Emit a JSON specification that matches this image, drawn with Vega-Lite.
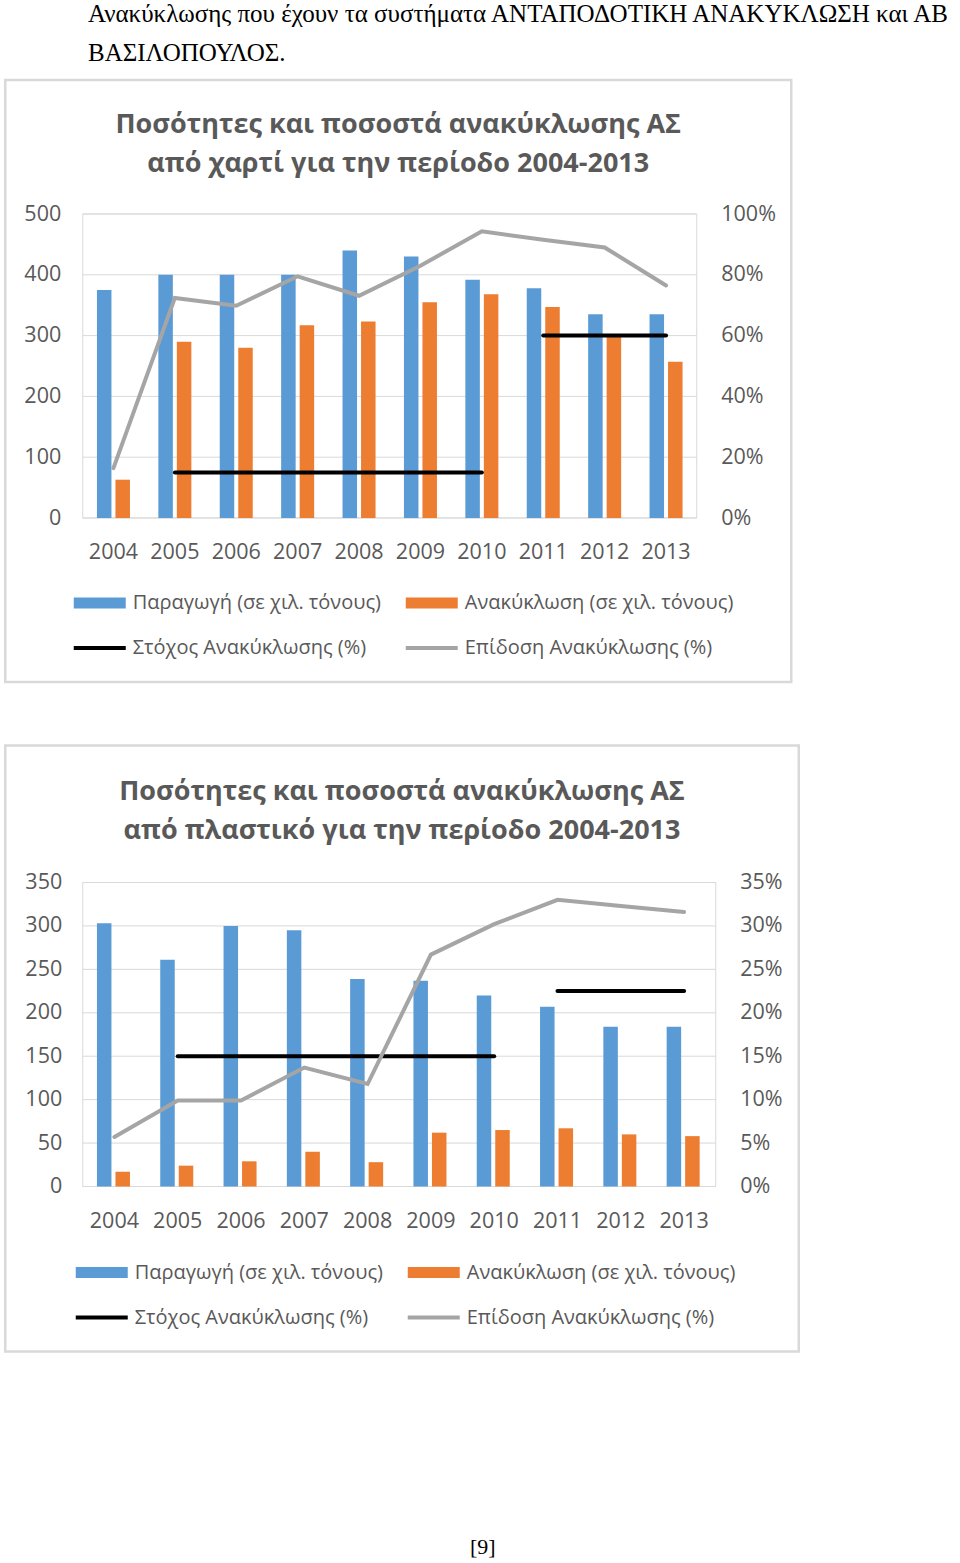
{
  "$schema": "https://vega.github.io/schema/vega-lite/v6.json",
  "background": "white",
  "padding": {"left": 3.25, "top": 2, "right": 0, "bottom": 0},
  "title": {
    "text": ["Ανακύκλωσης που έχουν τα συστήματα ΑΝΤΑΠΟΔΟΤΙΚΗ ΑΝΑΚΥΚΛΩΣΗ και ΑΒ", "ΒΑΣΙΛΟΠΟΥΛΟΣ."],
    "anchor": "start", "frame": "bounds", "font": "Liberation Serif", "fontSize": 25, "fontWeight": "normal",
    "color": "#000000", "lineHeight": 39, "dx": 84, "offset": 12.5
  },
  "spacing": 59.5,
  "resolve": {"scale": {"color": "independent"}, "legend": {"color": "independent"}},
  "datasets": {
    "bars1": [
      {"year": "2004", "series": "Παραγωγή (σε χιλ. τόνους)", "value": 375},
      {"year": "2005", "series": "Παραγωγή (σε χιλ. τόνους)", "value": 400},
      {"year": "2006", "series": "Παραγωγή (σε χιλ. τόνους)", "value": 400},
      {"year": "2007", "series": "Παραγωγή (σε χιλ. τόνους)", "value": 400},
      {"year": "2008", "series": "Παραγωγή (σε χιλ. τόνους)", "value": 440},
      {"year": "2009", "series": "Παραγωγή (σε χιλ. τόνους)", "value": 430},
      {"year": "2010", "series": "Παραγωγή (σε χιλ. τόνους)", "value": 392},
      {"year": "2011", "series": "Παραγωγή (σε χιλ. τόνους)", "value": 378},
      {"year": "2012", "series": "Παραγωγή (σε χιλ. τόνους)", "value": 335},
      {"year": "2013", "series": "Παραγωγή (σε χιλ. τόνους)", "value": 335},
      {"year": "2004", "series": "Ανακύκλωση (σε χιλ. τόνους)", "value": 63},
      {"year": "2005", "series": "Ανακύκλωση (σε χιλ. τόνους)", "value": 290},
      {"year": "2006", "series": "Ανακύκλωση (σε χιλ. τόνους)", "value": 280},
      {"year": "2007", "series": "Ανακύκλωση (σε χιλ. τόνους)", "value": 317},
      {"year": "2008", "series": "Ανακύκλωση (σε χιλ. τόνους)", "value": 323},
      {"year": "2009", "series": "Ανακύκλωση (σε χιλ. τόνους)", "value": 355},
      {"year": "2010", "series": "Ανακύκλωση (σε χιλ. τόνους)", "value": 368},
      {"year": "2011", "series": "Ανακύκλωση (σε χιλ. τόνους)", "value": 347},
      {"year": "2012", "series": "Ανακύκλωση (σε χιλ. τόνους)", "value": 299},
      {"year": "2013", "series": "Ανακύκλωση (σε χιλ. τόνους)", "value": 257}
    ],
    "lines1": [
      {"year": "2005", "series": "Στόχος Ανακύκλωσης (%)", "seg": "a", "pct": 0.15},
      {"year": "2006", "series": "Στόχος Ανακύκλωσης (%)", "seg": "a", "pct": 0.15},
      {"year": "2007", "series": "Στόχος Ανακύκλωσης (%)", "seg": "a", "pct": 0.15},
      {"year": "2008", "series": "Στόχος Ανακύκλωσης (%)", "seg": "a", "pct": 0.15},
      {"year": "2009", "series": "Στόχος Ανακύκλωσης (%)", "seg": "a", "pct": 0.15},
      {"year": "2010", "series": "Στόχος Ανακύκλωσης (%)", "seg": "a", "pct": 0.15},
      {"year": "2011", "series": "Στόχος Ανακύκλωσης (%)", "seg": "b", "pct": 0.6},
      {"year": "2012", "series": "Στόχος Ανακύκλωσης (%)", "seg": "b", "pct": 0.6},
      {"year": "2013", "series": "Στόχος Ανακύκλωσης (%)", "seg": "b", "pct": 0.6},
      {"year": "2004", "series": "Επίδοση Ανακύκλωσης (%)", "seg": "e", "pct": 0.164},
      {"year": "2005", "series": "Επίδοση Ανακύκλωσης (%)", "seg": "e", "pct": 0.724},
      {"year": "2006", "series": "Επίδοση Ανακύκλωσης (%)", "seg": "e", "pct": 0.698},
      {"year": "2007", "series": "Επίδοση Ανακύκλωσης (%)", "seg": "e", "pct": 0.795},
      {"year": "2008", "series": "Επίδοση Ανακύκλωσης (%)", "seg": "e", "pct": 0.731},
      {"year": "2009", "series": "Επίδοση Ανακύκλωσης (%)", "seg": "e", "pct": 0.83},
      {"year": "2010", "series": "Επίδοση Ανακύκλωσης (%)", "seg": "e", "pct": 0.943},
      {"year": "2011", "series": "Επίδοση Ανακύκλωσης (%)", "seg": "e", "pct": 0.915},
      {"year": "2012", "series": "Επίδοση Ανακύκλωσης (%)", "seg": "e", "pct": 0.89},
      {"year": "2013", "series": "Επίδοση Ανακύκλωσης (%)", "seg": "e", "pct": 0.765}
    ],
    "grid1": [{"v": 0}, {"v": 100}, {"v": 200}, {"v": 300}, {"v": 400}, {"v": 500}],
    "bars2": [
      {"year": "2004", "series": "Παραγωγή (σε χιλ. τόνους)", "value": 303},
      {"year": "2005", "series": "Παραγωγή (σε χιλ. τόνους)", "value": 261},
      {"year": "2006", "series": "Παραγωγή (σε χιλ. τόνους)", "value": 300},
      {"year": "2007", "series": "Παραγωγή (σε χιλ. τόνους)", "value": 295},
      {"year": "2008", "series": "Παραγωγή (σε χιλ. τόνους)", "value": 239},
      {"year": "2009", "series": "Παραγωγή (σε χιλ. τόνους)", "value": 237},
      {"year": "2010", "series": "Παραγωγή (σε χιλ. τόνους)", "value": 220},
      {"year": "2011", "series": "Παραγωγή (σε χιλ. τόνους)", "value": 207},
      {"year": "2012", "series": "Παραγωγή (σε χιλ. τόνους)", "value": 184},
      {"year": "2013", "series": "Παραγωγή (σε χιλ. τόνους)", "value": 184},
      {"year": "2004", "series": "Ανακύκλωση (σε χιλ. τόνους)", "value": 17},
      {"year": "2005", "series": "Ανακύκλωση (σε χιλ. τόνους)", "value": 24},
      {"year": "2006", "series": "Ανακύκλωση (σε χιλ. τόνους)", "value": 29},
      {"year": "2007", "series": "Ανακύκλωση (σε χιλ. τόνους)", "value": 40},
      {"year": "2008", "series": "Ανακύκλωση (σε χιλ. τόνους)", "value": 28},
      {"year": "2009", "series": "Ανακύκλωση (σε χιλ. τόνους)", "value": 62},
      {"year": "2010", "series": "Ανακύκλωση (σε χιλ. τόνους)", "value": 65},
      {"year": "2011", "series": "Ανακύκλωση (σε χιλ. τόνους)", "value": 67},
      {"year": "2012", "series": "Ανακύκλωση (σε χιλ. τόνους)", "value": 60},
      {"year": "2013", "series": "Ανακύκλωση (σε χιλ. τόνους)", "value": 58}
    ],
    "lines2": [
      {"year": "2005", "series": "Στόχος Ανακύκλωσης (%)", "seg": "a", "pct": 0.15},
      {"year": "2006", "series": "Στόχος Ανακύκλωσης (%)", "seg": "a", "pct": 0.15},
      {"year": "2007", "series": "Στόχος Ανακύκλωσης (%)", "seg": "a", "pct": 0.15},
      {"year": "2008", "series": "Στόχος Ανακύκλωσης (%)", "seg": "a", "pct": 0.15},
      {"year": "2009", "series": "Στόχος Ανακύκλωσης (%)", "seg": "a", "pct": 0.15},
      {"year": "2010", "series": "Στόχος Ανακύκλωσης (%)", "seg": "a", "pct": 0.15},
      {"year": "2011", "series": "Στόχος Ανακύκλωσης (%)", "seg": "b", "pct": 0.225},
      {"year": "2012", "series": "Στόχος Ανακύκλωσης (%)", "seg": "b", "pct": 0.225},
      {"year": "2013", "series": "Στόχος Ανακύκλωσης (%)", "seg": "b", "pct": 0.225},
      {"year": "2004", "series": "Επίδοση Ανακύκλωσης (%)", "seg": "e", "pct": 0.057},
      {"year": "2005", "series": "Επίδοση Ανακύκλωσης (%)", "seg": "e", "pct": 0.099},
      {"year": "2006", "series": "Επίδοση Ανακύκλωσης (%)", "seg": "e", "pct": 0.099},
      {"year": "2007", "series": "Επίδοση Ανακύκλωσης (%)", "seg": "e", "pct": 0.137},
      {"year": "2008", "series": "Επίδοση Ανακύκλωσης (%)", "seg": "e", "pct": 0.118},
      {"year": "2009", "series": "Επίδοση Ανακύκλωσης (%)", "seg": "e", "pct": 0.267},
      {"year": "2010", "series": "Επίδοση Ανακύκλωσης (%)", "seg": "e", "pct": 0.302},
      {"year": "2011", "series": "Επίδοση Ανακύκλωσης (%)", "seg": "e", "pct": 0.33},
      {"year": "2012", "series": "Επίδοση Ανακύκλωσης (%)", "seg": "e", "pct": 0.323},
      {"year": "2013", "series": "Επίδοση Ανακύκλωσης (%)", "seg": "e", "pct": 0.316}
    ],
    "grid2": [{"v": 0}, {"v": 50}, {"v": 100}, {"v": 150}, {"v": 200}, {"v": 250}, {"v": 300}, {"v": 350}]
  },
  "vconcat": [
    {
      "width": 786, "height": 602,
      "view": {"stroke": "#D9D9D9", "strokeWidth": 2.5},
      "title": {"text": ["Ποσότητες και ποσοστά ανακύκλωσης ΑΣ", "από χαρτί για την περίοδο  2004-2013"],
        "font": "Open Sans", "fontSize": 27, "fontWeight": "bold", "color": "#595959", "lineHeight": 39,
        "anchor": "middle", "frame": "group", "offset": -98},
      "resolve": {"scale": {"y": "independent"}, "axis": {"y": "independent"}},
      "layer": [
        {
          "layer": [
            {
              "data": {"name": "grid1"},
              "mark": {"type": "rule", "color": "#D9D9D9", "strokeWidth": 1},
              "encoding": {
                "x": {"datum": "2004", "type": "nominal", "bandPosition": 0,
                  "scale": {"domain": ["2004","2005","2006","2007","2008","2009","2010","2011","2012","2013"], "range": [77.5, 691.5], "paddingInner": 0, "paddingOuter": 0},
                  "axis": {"title": null, "orient": "bottom", "offset": -164, "labelPadding": 23.7, "labelAngle": 0, "domain": false, "ticks": false, "grid": false}},
                "x2": {"datum": "2013", "bandPosition": 1},
                "y": {"field": "v", "type": "quantitative",
                  "scale": {"domain": [0, 500], "range": [438, 134], "nice": false, "zero": false},
                  "axis": {"title": null, "orient": "left", "values": [0, 100, 200, 300, 400, 500], "offset": -55.5, "labelPadding": 0, "domain": false, "ticks": false, "grid": false}}
              }
            },
            {
              "data": {"name": "grid1"},
              "mark": {"type": "rect", "fill": null, "stroke": "#D9D9D9", "strokeWidth": 1},
              "encoding": {
                "x": {"datum": "2004", "type": "nominal", "bandPosition": 0,
                  "axis": {"title": null, "orient": "bottom", "offset": -164, "labelPadding": 23.7, "labelAngle": 0, "domain": false, "ticks": false, "grid": false}},
                "x2": {"datum": "2013", "bandPosition": 1},
                "y": {"aggregate": "min", "field": "v", "type": "quantitative",
                  "axis": {"title": null, "orient": "left", "values": [0, 100, 200, 300, 400, 500], "offset": -55.5, "labelPadding": 0, "domain": false, "ticks": false, "grid": false}},
                "y2": {"aggregate": "max", "field": "v"}
              }
            },
            {
              "data": {"name": "bars1"},
              "mark": {"type": "bar"},
              "encoding": {
                "x": {"field": "year", "type": "nominal",
                  "axis": {"title": null, "orient": "bottom", "offset": -164, "labelPadding": 23.7, "labelAngle": 0, "domain": false, "ticks": false, "grid": false}},
                "xOffset": {"field": "series", "type": "nominal",
                  "scale": {"domain": ["Παραγωγή (σε χιλ. τόνους)", "Ανακύκλωση (σε χιλ. τόνους)"], "paddingInner": 0.216, "paddingOuter": 0.767}},
                "y": {"field": "value", "type": "quantitative",
                  "axis": {"title": null, "orient": "left", "values": [0, 100, 200, 300, 400, 500], "offset": -55.5, "labelPadding": 0, "domain": false, "ticks": false, "grid": false}},
                "color": {"field": "series", "type": "nominal",
                  "scale": {"domain": ["Παραγωγή (σε χιλ. τόνους)", "Ανακύκλωση (σε χιλ. τόνους)", "Στόχος Ανακύκλωσης (%)", "Επίδοση Ανακύκλωσης (%)"], "range": ["#5B9BD5", "#ED7D31", "#000000", "#A5A5A5"]},
                  "legend": {"title": null, "orient": "none", "legendX": 68.5, "legendY": 497, "direction": "horizontal", "columns": 2,
                    "symbolSize": 2704, "labelFontSize": 20, "labelOffset": 7, "columnPadding": 24, "rowPadding": 9, "padding": 0,
                    "encode": {"symbols": {"update": {
                      "shape": {"signal": "indexof(datum.value, '%') >= 0 ? 'M-1,-0.08H1V0.08H-1Z' : 'M-1,-0.21H1V0.21H-1Z'"},
                      "fill": {"signal": "datum.value === 'Παραγωγή (σε χιλ. τόνους)' ? '#5B9BD5' : datum.value === 'Ανακύκλωση (σε χιλ. τόνους)' ? '#ED7D31' : datum.value === 'Στόχος Ανακύκλωσης (%)' ? '#000000' : '#A5A5A5'"},
                      "stroke": {"value": "transparent"}, "strokeWidth": {"value": 0}, "opacity": {"value": 1}}}}}}
              }
            }
          ]
        },
        {
          "data": {"name": "lines1"},
          "mark": {"type": "line", "strokeWidth": 4, "strokeCap": "round"},
          "encoding": {
            "x": {"field": "year", "type": "nominal",
              "axis": {"title": null, "orient": "bottom", "offset": -164, "labelPadding": 23.7, "labelAngle": 0, "domain": false, "ticks": false, "grid": false}},
            "y": {"field": "pct", "type": "quantitative",
              "scale": {"domain": [0, 1], "range": [438, 134], "nice": false, "zero": false},
              "axis": {"title": null, "orient": "right", "values": [0, 0.2, 0.4, 0.6, 0.8, 1], "format": ".0%", "offset": -70.5, "labelPadding": 0, "domain": false, "ticks": false, "grid": false}},
            "color": {"field": "series", "type": "nominal", "legend": null},
            "detail": {"field": "seg", "type": "nominal"}
          }
        }
      ]
    },
    {
      "width": 793.5, "height": 606,
      "view": {"stroke": "#D9D9D9", "strokeWidth": 2.5},
      "title": {"text": ["Ποσότητες και ποσοστά ανακύκλωσης ΑΣ", "από πλαστικό για την περίοδο  2004-2013"],
        "font": "Open Sans", "fontSize": 27, "fontWeight": "bold", "color": "#595959", "lineHeight": 39,
        "anchor": "middle", "frame": "group", "offset": -99},
      "resolve": {"scale": {"y": "independent"}, "axis": {"y": "independent"}},
      "layer": [
        {
          "layer": [
            {
              "data": {"name": "grid2"},
              "mark": {"type": "rule", "color": "#D9D9D9", "strokeWidth": 1},
              "encoding": {
                "x": {"datum": "2004", "type": "nominal", "bandPosition": 0,
                  "scale": {"domain": ["2004","2005","2006","2007","2008","2009","2010","2011","2012","2013"], "range": [77.5, 710.5], "paddingInner": 0, "paddingOuter": 0},
                  "axis": {"title": null, "orient": "bottom", "offset": -165, "labelPadding": 23.7, "labelAngle": 0, "domain": false, "ticks": false, "grid": false}},
                "x2": {"datum": "2013", "bandPosition": 1},
                "y": {"field": "v", "type": "quantitative",
                  "scale": {"domain": [0, 350], "range": [441, 137], "nice": false, "zero": false},
                  "axis": {"title": null, "orient": "left", "values": [0, 50, 100, 150, 200, 250, 300, 350], "offset": -56.5, "labelPadding": 0, "domain": false, "ticks": false, "grid": false}}
              }
            },
            {
              "data": {"name": "grid2"},
              "mark": {"type": "rect", "fill": null, "stroke": "#D9D9D9", "strokeWidth": 1},
              "encoding": {
                "x": {"datum": "2004", "type": "nominal", "bandPosition": 0,
                  "axis": {"title": null, "orient": "bottom", "offset": -165, "labelPadding": 23.7, "labelAngle": 0, "domain": false, "ticks": false, "grid": false}},
                "x2": {"datum": "2013", "bandPosition": 1},
                "y": {"aggregate": "min", "field": "v", "type": "quantitative",
                  "axis": {"title": null, "orient": "left", "values": [0, 50, 100, 150, 200, 250, 300, 350], "offset": -56.5, "labelPadding": 0, "domain": false, "ticks": false, "grid": false}},
                "y2": {"aggregate": "max", "field": "v"}
              }
            },
            {
              "data": {"name": "bars2"},
              "mark": {"type": "bar"},
              "encoding": {
                "x": {"field": "year", "type": "nominal",
                  "axis": {"title": null, "orient": "bottom", "offset": -165, "labelPadding": 23.7, "labelAngle": 0, "domain": false, "ticks": false, "grid": false}},
                "xOffset": {"field": "series", "type": "nominal",
                  "scale": {"domain": ["Παραγωγή (σε χιλ. τόνους)", "Ανακύκλωση (σε χιλ. τόνους)"], "paddingInner": 0.222, "paddingOuter": 0.869}},
                "y": {"field": "value", "type": "quantitative",
                  "axis": {"title": null, "orient": "left", "values": [0, 50, 100, 150, 200, 250, 300, 350], "offset": -56.5, "labelPadding": 0, "domain": false, "ticks": false, "grid": false}},
                "color": {"field": "series", "type": "nominal",
                  "scale": {"domain": ["Παραγωγή (σε χιλ. τόνους)", "Ανακύκλωση (σε χιλ. τόνους)", "Στόχος Ανακύκλωσης (%)", "Επίδοση Ανακύκλωσης (%)"], "range": ["#5B9BD5", "#ED7D31", "#000000", "#A5A5A5"]},
                  "legend": {"title": null, "orient": "none", "legendX": 70.5, "legendY": 501, "direction": "horizontal", "columns": 2,
                    "symbolSize": 2704, "labelFontSize": 20, "labelOffset": 7, "columnPadding": 24, "rowPadding": 9, "padding": 0,
                    "encode": {"symbols": {"update": {
                      "shape": {"signal": "indexof(datum.value, '%') >= 0 ? 'M-1,-0.08H1V0.08H-1Z' : 'M-1,-0.21H1V0.21H-1Z'"},
                      "fill": {"signal": "datum.value === 'Παραγωγή (σε χιλ. τόνους)' ? '#5B9BD5' : datum.value === 'Ανακύκλωση (σε χιλ. τόνους)' ? '#ED7D31' : datum.value === 'Στόχος Ανακύκλωσης (%)' ? '#000000' : '#A5A5A5'"},
                      "stroke": {"value": "transparent"}, "strokeWidth": {"value": 0}, "opacity": {"value": 1}}}}}}
              }
            }
          ]
        },
        {
          "data": {"name": "lines2"},
          "mark": {"type": "line", "strokeWidth": 4, "strokeCap": "round"},
          "encoding": {
            "x": {"field": "year", "type": "nominal",
              "axis": {"title": null, "orient": "bottom", "offset": -165, "labelPadding": 23.7, "labelAngle": 0, "domain": false, "ticks": false, "grid": false}},
            "y": {"field": "pct", "type": "quantitative",
              "scale": {"domain": [0, 0.35], "range": [441, 137], "nice": false, "zero": false},
              "axis": {"title": null, "orient": "right", "values": [0, 0.05, 0.1, 0.15, 0.2, 0.25, 0.3, 0.35], "format": ".0%", "offset": -59, "labelPadding": 0, "domain": false, "ticks": false, "grid": false}},
            "color": {"field": "series", "type": "nominal", "legend": null},
            "detail": {"field": "seg", "type": "nominal"}
          }
        }
      ]
    },
    {
      "data": {"values": [{"page": "[9]"}]},
      "width": 955, "height": 134,
      "view": {"stroke": null},
      "mark": {"type": "text", "font": "Liberation Serif", "fontSize": 22, "baseline": "middle", "color": "#000000"},
      "encoding": {
        "text": {"field": "page", "type": "nominal"},
        "y": {"value": "height"}
      }
    }
  ],
  "config": {
    "font": "Open Sans",
    "axis": {"labelFont": "Open Sans", "labelFontSize": 21.5, "labelColor": "#595959"},
    "legend": {"labelFont": "Open Sans", "labelColor": "#595959", "labelLimit": 400}
  }
}
